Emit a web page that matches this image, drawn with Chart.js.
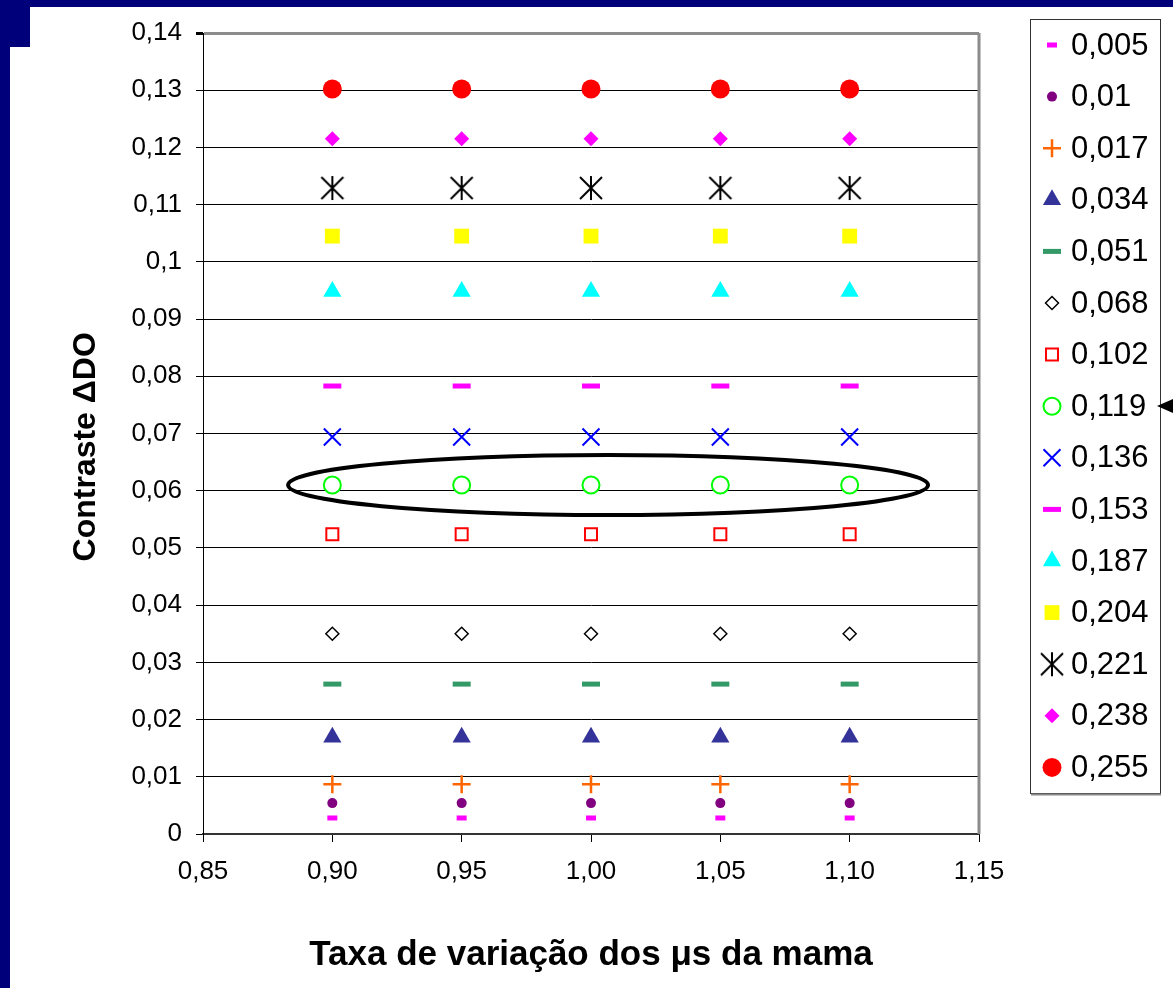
<!DOCTYPE html>
<html>
<head>
<meta charset="utf-8">
<title>Contraste ΔDO</title>
<script src="https://cdn.jsdelivr.net/npm/chart.js@4.4.1/dist/chart.umd.min.js"></script>
<style>
  html, body { margin: 0; padding: 0; background: #fff; }
  body { width: 1173px; height: 988px; position: relative; overflow: hidden; }
  .frame { position: absolute; background: #00007a; }
  #chart { position: absolute; left: 0; top: 0; }
</style>
</head>
<body>
<div class="frame" style="left:0;top:0;width:1173px;height:7px"></div>
<div class="frame" style="left:0;top:0;width:10px;height:988px"></div>
<div class="frame" style="left:0;top:0;width:30px;height:47px"></div>
<canvas id="chart" width="1173" height="988"></canvas>
<script>
// x values (taxa de variação dos μs da mama)
const X_VALUES = [0.90, 0.95, 1.00, 1.05, 1.10];

// one series per legend entry
const SERIES_LABELS = [
  "0,005", "0,01", "0,017", "0,034", "0,051", "0,068", "0,102", "0,119",
  "0,136", "0,153", "0,187", "0,204", "0,221", "0,238", "0,255",
];

// contraste ΔDO, one row per series, one value per x
const CONTRAST = [
  [0.0028, 0.0028, 0.0028, 0.0028, 0.0028],
  [0.0054, 0.0054, 0.0054, 0.0054, 0.0054],
  [0.0087, 0.0087, 0.0087, 0.0087, 0.0087],
  [0.0169, 0.0169, 0.0169, 0.0169, 0.0169],
  [0.0262, 0.0262, 0.0262, 0.0262, 0.0262],
  [0.0350, 0.0350, 0.0350, 0.0350, 0.0350],
  [0.0524, 0.0524, 0.0524, 0.0524, 0.0524],
  [0.0610, 0.0610, 0.0610, 0.0610, 0.0610],
  [0.0694, 0.0694, 0.0694, 0.0694, 0.0694],
  [0.0783, 0.0783, 0.0783, 0.0783, 0.0783],
  [0.0948, 0.0948, 0.0948, 0.0948, 0.0948],
  [0.1045, 0.1045, 0.1045, 0.1045, 0.1045],
  [0.1129, 0.1129, 0.1129, 0.1129, 0.1129],
  [0.1215, 0.1215, 0.1215, 0.1215, 0.1215],
  [0.1302, 0.1302, 0.1302, 0.1302, 0.1302],
];

const Y_TICK_LABELS = [
  "0", "0,01", "0,02", "0,03", "0,04", "0,05", "0,06", "0,07",
  "0,08", "0,09", "0,1", "0,11", "0,12", "0,13", "0,14",
];
const X_TICK_LABELS = ["0,85", "0,90", "0,95", "1,00", "1,05", "1,10", "1,15"];

// highlighted group (0,119) in data units
const HIGHLIGHT = { cx: 1.0066, cy: 0.0610, rx: 0.1237, ry: 0.00525 };

const FONT = "'Liberation Sans', Arial, sans-serif";

function makeStar() {
  const c = document.createElement("canvas");
  c.width = 26;
  c.height = 26;
  const g = c.getContext("2d");
  g.strokeStyle = "#000";
  g.lineWidth = 2;
  g.beginPath();
  g.moveTo(2, 2); g.lineTo(24, 24);
  g.moveTo(24, 2); g.lineTo(2, 24);
  g.moveTo(13, 1); g.lineTo(13, 25);
  g.stroke();
  return c;
}

const NONE = "rgba(0,0,0,0)";
const SERIES_STYLES = [
  { style: "line", radius: 5, border: 5, fill: NONE, stroke: "#ff00ff" },
  { style: "circle", radius: 5, border: 0, fill: "#800080", stroke: "#800080" },
  { style: "cross", radius: 9, border: 2.5, fill: NONE, stroke: "#ff6600" },
  { style: "triangle", radius: 10.5, border: 0, fill: "#333399", stroke: "#333399" },
  { style: "line", radius: 9, border: 5, fill: NONE, stroke: "#339966" },
  { style: "rectRot", radius: 6.5, border: 1.5, fill: "#fff", stroke: "#000" },
  { style: "rect", radius: 8.5, border: 2, fill: "#fff", stroke: "#ff0000" },
  { style: "circle", radius: 8.5, border: 2, fill: "#fff", stroke: "#00ff00" },
  { style: "crossRot", radius: 12, border: 2, fill: NONE, stroke: "#0000ff" },
  { style: "line", radius: 9, border: 5, fill: NONE, stroke: "#ff00ff" },
  { style: "triangle", radius: 10.5, border: 0, fill: "#00ffff", stroke: "#00ffff" },
  { style: "rect", radius: 10.5, border: 0, fill: "#ffff00", stroke: "#ffff00" },
  { style: makeStar(), radius: 12, border: 0, fill: NONE, stroke: "#000" },
  { style: "rectRot", radius: 7.5, border: 0, fill: "#ff00ff", stroke: "#ff00ff" },
  { style: "circle", radius: 9.5, border: 0, fill: "#ff0000", stroke: "#ff0000" },
];

const datasets = SERIES_LABELS.map((label, i) => {
  const st = SERIES_STYLES[i];
  return {
    label,
    data: X_VALUES.map((x, j) => ({ x, y: CONTRAST[i][j] })),
    showLine: false,
    pointStyle: st.style,
    pointRadius: st.radius,
    pointHoverRadius: st.radius,
    pointBorderWidth: st.border,
    pointBackgroundColor: st.fill,
    pointBorderColor: st.stroke,
  };
});

const isTop = (v) => Math.abs(v - 0.14) < 1e-9;

// plot frame, ellipse, legend box and the arrow next to 0,119
const decorations = {
  id: "decorations",
  beforeDatasetsDraw(chart) {
    const { ctx, chartArea: a } = chart;
    ctx.save();
    ctx.strokeStyle = "#8c8c8c";
    ctx.lineWidth = 3;
    ctx.beginPath();
    ctx.moveTo(a.right, a.top);
    ctx.lineTo(a.right, a.bottom);
    ctx.stroke();
    ctx.restore();
  },
  afterDatasetsDraw(chart) {
    const { ctx } = chart;
    const xs = chart.scales.x;
    const ys = chart.scales.y;
    const cx = xs.getPixelForValue(HIGHLIGHT.cx);
    const cy = ys.getPixelForValue(HIGHLIGHT.cy);
    const rx = xs.getPixelForValue(HIGHLIGHT.cx + HIGHLIGHT.rx) - cx;
    const ry = cy - ys.getPixelForValue(HIGHLIGHT.cy + HIGHLIGHT.ry);
    ctx.save();
    ctx.strokeStyle = "#000";
    ctx.lineWidth = 4;
    ctx.beginPath();
    ctx.ellipse(cx, cy, rx, ry, 0, 0, Math.PI * 2);
    ctx.stroke();
    ctx.restore();
  },
  afterDraw(chart) {
    const { ctx } = chart;
    ctx.save();
    ctx.strokeStyle = "#333";
    ctx.lineWidth = 1;
    ctx.strokeRect(1030.5, 19.5, 130, 774);
    ctx.strokeStyle = "#888";
    ctx.lineWidth = 2;
    ctx.beginPath();
    ctx.moveTo(1031, 794.5);
    ctx.lineTo(1161, 794.5);
    ctx.stroke();

    ctx.font = "31px " + FONT;
    ctx.textBaseline = "middle";
    ctx.textAlign = "left";
    chart.data.datasets.forEach((ds, i) => {
      const y = 45 + i * 51.6;
      ctx.fillStyle = ds.pointBackgroundColor;
      ctx.strokeStyle = ds.pointBorderColor;
      ctx.lineWidth = ds.pointBorderWidth;
      Chart.helpers.drawPoint(ctx, {
        pointStyle: ds.pointStyle,
        radius: ds.pointRadius,
        borderWidth: ds.pointBorderWidth,
        rotation: 0,
      }, 1052, y);
      ctx.fillStyle = "#000";
      ctx.fillText(ds.label, 1071, y + 1);
    });

    ctx.fillStyle = "#000";
    ctx.beginPath();
    ctx.moveTo(1157, 406);
    ctx.lineTo(1173, 399);
    ctx.lineTo(1173, 413);
    ctx.closePath();
    ctx.fill();
    ctx.restore();
  },
};

Chart.defaults.font.family = FONT;
Chart.defaults.color = "#000";

new Chart(document.getElementById("chart"), {
  type: "scatter",
  data: { datasets },
  plugins: [decorations],
  options: {
    responsive: false,
    animation: false,
    events: [],
    layout: { padding: { left: 63, top: 33, right: 194, bottom: 8 } },
    plugins: {
      legend: { display: false },
      tooltip: { enabled: false },
    },
    scales: {
      x: {
        type: "linear",
        min: 0.85,
        max: 1.15,
        afterFit: (s) => { s.height = 146; },
        ticks: {
          stepSize: 0.05,
          padding: 14,
          maxRotation: 0,
          font: { size: 26 },
          callback: (v, i) => X_TICK_LABELS[i],
        },
        grid: { drawOnChartArea: false, drawTicks: true, tickLength: 8, color: "#000" },
        border: { color: "#333", width: 2 },
        title: {
          display: true,
          text: "Taxa de variação dos μs da mama",
          font: { size: 35, weight: "bold" },
        },
      },
      y: {
        min: 0,
        max: 0.14,
        afterFit: (s) => { s.width = 140; },
        ticks: {
          stepSize: 0.01,
          padding: 14,
          font: { size: 26 },
          callback: (v, i) => Y_TICK_LABELS[i],
        },
        grid: {
          tickLength: 7,
          color: (c) => (c.tick && isTop(c.tick.value) ? "#8c8c8c" : "#000"),
          lineWidth: (c) => (c.tick && isTop(c.tick.value) ? 3 : 1),
          tickColor: "#000",
        },
        border: { color: "#000", width: 1 },
        title: {
          display: true,
          text: "Contraste ΔDO\u00a0\u00a0\u00a0",
          font: { size: 32, weight: "bold" },
        },
      },
    },
  },
});
</script>
</body>
</html>
